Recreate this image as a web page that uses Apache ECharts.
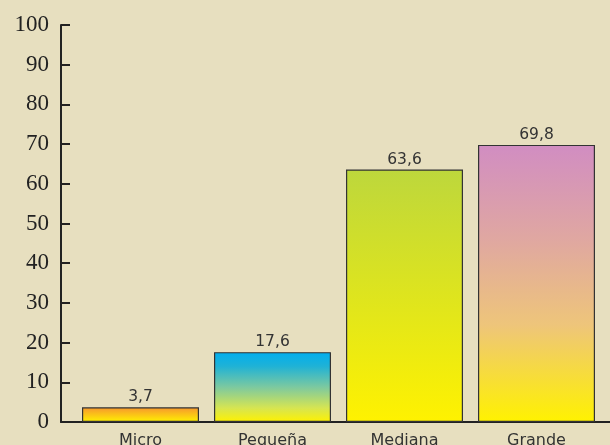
<!DOCTYPE html>
<html>
<head>
<meta charset="utf-8">
<script src="https://cdn.jsdelivr.net/npm/echarts@6/dist/echarts.min.js"></script>
<style>
html,body{margin:0;padding:0;background:#E7DFBF;}
#c{width:610px;height:445px;}
</style>
</head>
<body>
<div id="c"></div>
<script>
var categories = ['Micro', 'Pequeña', 'Mediana', 'Grande'];
var values = [3.7, 17.6, 63.6, 69.8];
var yTicks = [0, 10, 20, 30, 40, 50, 60, 70, 80, 90, 100];

function grad(stops) {
  return new echarts.graphic.LinearGradient(0, 0, 0, 1, stops.map(function (s) { return { offset: s[0], color: s[1] }; }));
}
var barColors = [
  grad([[0, '#F7962E'], [1, '#FFF200']]),
  grad([[0, '#00AEEF'], [0.2, '#1FB2D6'], [0.5, '#7CC9A0'], [0.8, '#D6E552'], [1, '#FFF200']]),
  grad([[0, '#BDD73C'], [1, '#FFF200']]),
  grad([[0, '#D18DC2'], [0.35, '#E0A8A0'], [0.65, '#EEC57A'], [1, '#FFF200']])
];

var chart = echarts.init(document.getElementById('c'), null, { renderer: 'canvas' });
chart.setOption({
  backgroundColor: '#E7DFBF',
  animation: false,
  grid: [
    { left: 61, right: 0, top: 25, bottom: 23, containLabel: false, outerBoundsMode: 'none' },
    { left: 74.5, right: 7.5, top: 25, bottom: 23, containLabel: false, outerBoundsMode: 'none' }
  ],
  xAxis: [
    {
      gridIndex: 0, type: 'value', min: 0, max: 1,
      axisLine: { show: true, onZero: false, lineStyle: { color: '#222', width: 2 } },
      axisTick: { show: false }, axisLabel: { show: false }, splitLine: { show: false }
    },
    {
      gridIndex: 1, type: 'category', data: categories,
      axisLine: { show: false }, axisTick: { show: false },
      axisLabel: { margin: 11, fontFamily: 'DejaVu Sans', fontSize: 16, color: '#333' }
    }
  ],
  yAxis: [
    {
      gridIndex: 0, type: 'value', min: 0, max: 100, interval: 10,
      axisLine: { show: true, lineStyle: { color: '#222', width: 2 } },
      axisTick: { show: true, inside: true, length: 9, lineStyle: { color: '#222', width: 2 } },
      axisLabel: {
        margin: 12, fontFamily: '"Liberation Serif", "Times New Roman", serif', fontSize: 23, color: '#222',
        formatter: function (v) { return yTicks.indexOf(v) >= 0 ? String(v) : ''; }
      },
      splitLine: { show: false }
    },
    {
      gridIndex: 1, type: 'value', min: 0, max: 100, show: false, splitLine: { show: false }
    }
  ],
  series: [{
    type: 'bar',
    xAxisIndex: 1, yAxisIndex: 1,
    barWidth: 117,
    data: values.map(function (v, i) {
      return { value: v, itemStyle: { color: barColors[i] } };
    }),
    itemStyle: { borderColor: '#333', borderWidth: 1.2 },
    label: {
      show: true, position: 'top', distance: 2,
      fontFamily: 'DejaVu Sans', fontSize: 15.5, color: '#333',
      formatter: function (p) { return String(p.value).replace('.', ','); }
    }
  }]
});
</script>
</body>
</html>
